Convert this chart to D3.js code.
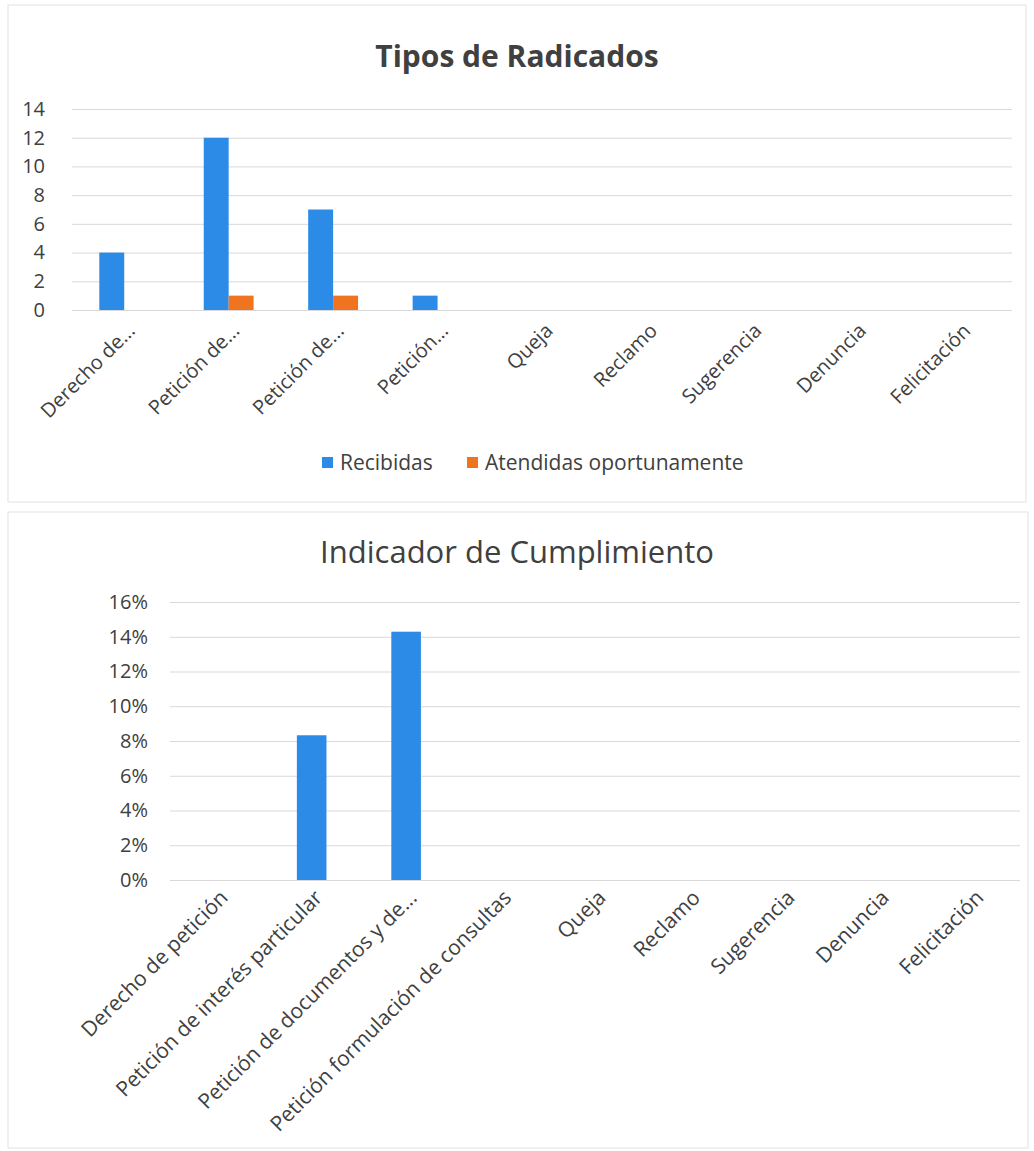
<!DOCTYPE html>
<html>
<head>
<meta charset="utf-8">
<script src="https://cdn.jsdelivr.net/npm/d3@7"></script>
<style>
  body { margin: 0; background: #fff; }
  text { font-family: "Open Sans", "Noto Sans", sans-serif; fill: #404040; }
</style>
</head>
<body>
<script>
// categorias cortas (primer grafico) y largas (segundo grafico)
const categoriasCortas = ["Derecho de...", "Petición de...", "Petición de...", "Petición...",
                          "Queja", "Reclamo", "Sugerencia", "Denuncia", "Felicitación"];
const categoriasLargas = ["Derecho de petición", "Petición de interés particular",
                          "Petición de documentos y de...", "Petición formulación de consultas",
                          "Queja", "Reclamo", "Sugerencia", "Denuncia", "Felicitación"];
const recibidas = [4, 12, 7, 1, 0, 0, 0, 0, 0];
const atendidas = [0, 1, 1, 0, 0, 0, 0, 0, 0];
const indicador = [0, 0.0833, 0.1429, 0, 0, 0, 0, 0, 0];
const ticksRadicados = [0, 2, 4, 6, 8, 10, 12, 14];
const ticksIndicador = [0, 0.02, 0.04, 0.06, 0.08, 0.10, 0.12, 0.14, 0.16];
const series = ["Recibidas", "Atendidas oportunamente"];

const azul = "#2c8be6", naranja = "#f0731f";

const svg = d3.select("body").append("svg")
    .attr("width", 1034)
    .attr("height", 1151);

// marcos de los dos graficos
svg.append("rect").attr("x", 8).attr("y", 5).attr("width", 1018).attr("height", 497)
    .attr("fill", "none").attr("stroke", "#e2e2e2");
svg.append("rect").attr("x", 8).attr("y", 512).attr("width", 1020).attr("height", 636)
    .attr("fill", "none").attr("stroke", "#e2e2e2");

/* ---------- Grafico 1: Tipos de Radicados ---------- */
let g1 = svg.append("g");
let idx = d3.range(categoriasCortas.length);

let x1 = d3.scaleBand().domain(idx).range([72, 1012]).paddingInner(0).paddingOuter(0);
let y1 = d3.scaleLinear().domain([0, 14]).range([310, 109]);
// ancho de barra al estilo Excel (gap 219%)
let bw1 = x1.bandwidth() / 4.19;

g1.append("text").attr("x", 517).attr("y", 67)
    .attr("text-anchor", "middle").attr("font-size", 30).attr("font-weight", "bold")
    .text("Tipos de Radicados");

let ax1 = g1.append("g").attr("transform", "translate(72,0)")
    .call(d3.axisLeft(y1).tickValues(ticksRadicados).tickSize(-(1012 - 72)).tickFormat(d3.format("d")));
ax1.select(".domain").remove();
ax1.selectAll(".tick line").attr("stroke", "#d9d9d9");
ax1.selectAll(".tick text").attr("x", -27).attr("font-size", 20).attr("fill", "#404040");

g1.selectAll(".recibida").data(recibidas).enter().append("rect")
    .attr("class", "recibida")
    .attr("x", (d, i) => x1(i) + x1.bandwidth() / 2 - bw1)
    .attr("y", d => y1(d))
    .attr("width", bw1)
    .attr("height", d => y1(0) - y1(d))
    .attr("fill", azul);

g1.selectAll(".atendida").data(atendidas).enter().append("rect")
    .attr("class", "atendida")
    .attr("x", (d, i) => x1(i) + x1.bandwidth() / 2)
    .attr("y", d => y1(d))
    .attr("width", bw1)
    .attr("height", d => y1(0) - y1(d))
    .attr("fill", naranja);

g1.selectAll(".lab1").data(categoriasCortas).enter().append("text")
    .attr("class", "lab1")
    .attr("text-anchor", "end")
    .attr("font-size", 20)
    .attr("transform", (d, i) => "translate(" + (x1(i) + x1.bandwidth() / 2 + 12) + "," + (y1(0) + 22) + ") rotate(-45)")
    .text(d => d);

// leyenda
let leg = g1.selectAll(".leg").data(series).enter().append("g")
    .attr("transform", (d, i) => "translate(" + (i == 0 ? 322 : 467) + ",463)");
leg.append("rect").attr("x", 0).attr("y", -6).attr("width", 11).attr("height", 11)
    .attr("fill", (d, i) => i == 0 ? azul : naranja);
leg.append("text").attr("x", 18).attr("y", 7).attr("font-size", 21).text(d => d);

/* ---------- Grafico 2: Indicador de Cumplimiento ---------- */
let g2 = svg.append("g");

let x2 = d3.scaleBand().domain(idx).range([170, 1020]);
let y2 = d3.scaleLinear().domain([0, 0.16]).range([880, 602]);
let bw2 = x2.bandwidth() / 3.19;

g2.append("text").attr("x", 517).attr("y", 563)
    .attr("text-anchor", "middle").attr("font-size", 31)
    .text("Indicador de Cumplimiento");

let ax2 = g2.append("g").attr("transform", "translate(170,0)")
    .call(d3.axisLeft(y2).tickValues(ticksIndicador).tickSize(-(1020 - 170)).tickFormat(d3.format(".0%")));
ax2.select(".domain").remove();
ax2.selectAll(".tick line").attr("stroke", "#d9d9d9");
ax2.selectAll(".tick text").attr("x", -22).attr("font-size", 20).attr("fill", "#404040");

g2.selectAll(".ind").data(indicador).enter().append("rect")
    .attr("class", "ind")
    .attr("x", (d, i) => x2(i) + x2.bandwidth() / 2 - bw2 / 2)
    .attr("y", d => y2(d))
    .attr("width", bw2)
    .attr("height", d => y2(0) - y2(d))
    .attr("fill", azul);

g2.selectAll(".lab2").data(categoriasLargas).enter().append("text")
    .attr("class", "lab2")
    .attr("text-anchor", "end")
    .attr("font-size", 21)
    .attr("transform", (d, i) => "translate(" + (x2(i) + x2.bandwidth() / 2 + 12) + "," + (y2(0) + 19) + ") rotate(-45)")
    .text(d => d);
</script>
</body>
</html>
